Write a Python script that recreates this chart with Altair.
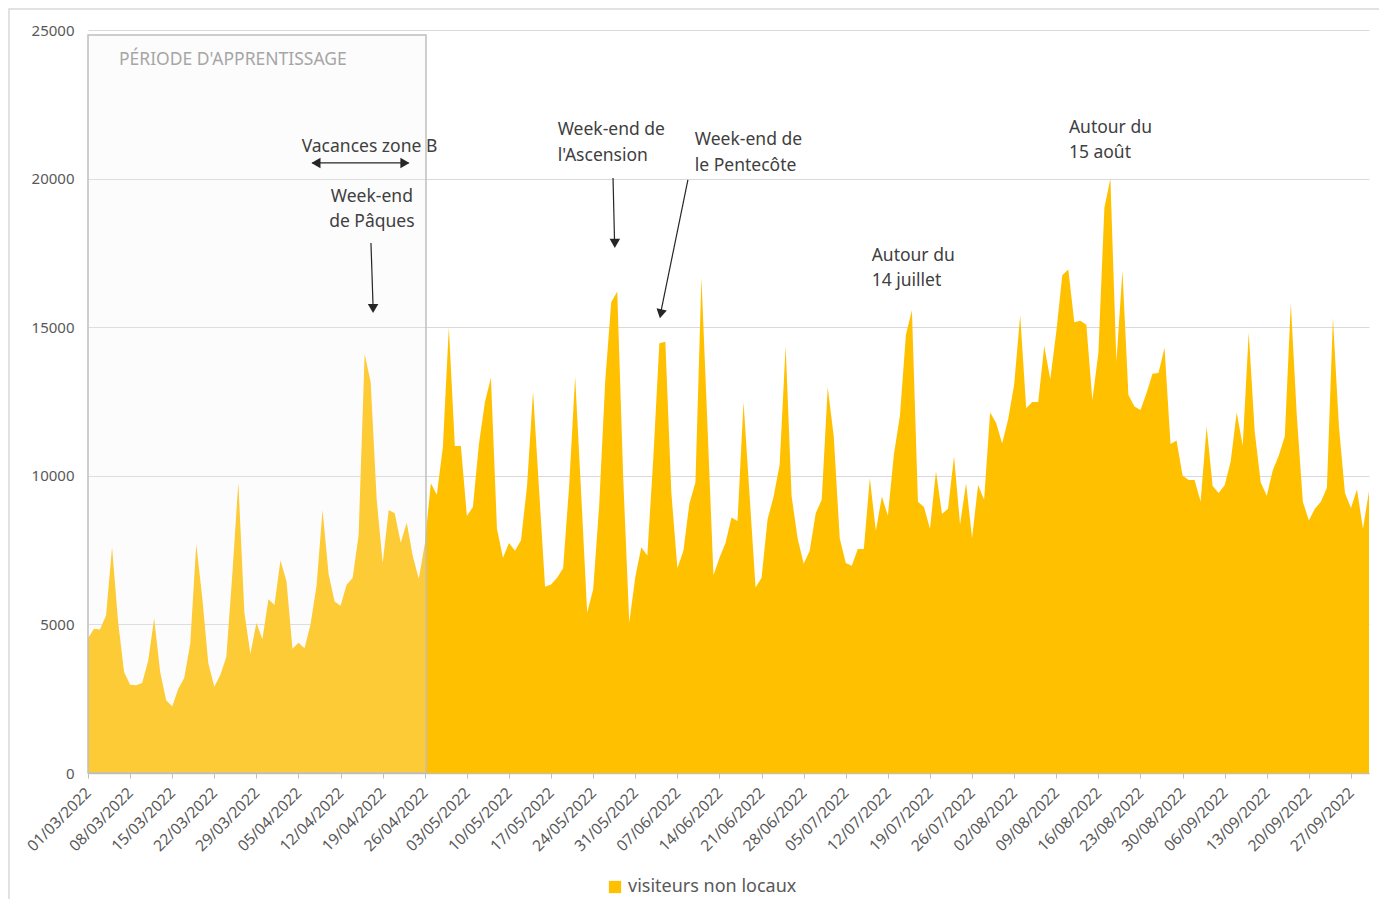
import altair as alt
import pandas as pd

# ---- data -------------------------------------------------------------
dates = pd.date_range("2022-03-01", "2022-09-30", freq="D").strftime("%Y-%m-%d").tolist()
serie_name = "visiteurs non locaux"
visiteurs = [
    4530, 4850, 4830, 5300, 7600, 5100, 3400, 2970, 2950, 3030,
    3770, 5200, 3400, 2450, 2240, 2830, 3200, 4350, 7700, 5900,
    3700, 2900, 3300, 3900, 6700, 9780, 5400, 4000, 5050, 4500,
    5850, 5650, 7150, 6450, 4180, 4380, 4200, 5000, 6300, 8850,
    6700, 5770, 5630, 6330, 6560, 8000, 14100, 13150, 9200, 7070,
    8850, 8740, 7750, 8420, 7300, 6540, 7700, 9750, 9360, 10950,
    15000, 11000, 11000, 8650, 8950, 11070, 12480, 13300, 8220, 7240,
    7740, 7480, 7830, 9660, 12840, 9540, 6270, 6340, 6570, 6890,
    9660, 13330, 9420, 5390, 6180, 9010, 13190, 15840, 16200, 9890,
    5060, 6590, 7600, 7320, 10600, 14460, 14510, 9420, 6890, 7480,
    9070, 9775, 16670, 11700, 6650, 7240, 7740, 8600, 8480, 12480,
    9360, 6240, 6570, 8540, 9300, 10360, 14370, 9300, 7890, 7040,
    7480, 8740, 9190, 12980, 11330, 7890, 7070, 6970, 7540, 7540,
    9920, 8150, 9300, 8660, 10720, 12010, 14750, 15570, 9130, 8950,
    8220, 10150, 8715, 8890, 10660, 8360, 9750, 7910, 9690, 9190,
    12130, 11780, 11090, 11900, 13070, 15400, 12270, 12480, 12480, 14370,
    13250, 14840, 16750, 16940, 15170, 15220, 15080, 12540, 14130, 19020,
    20000, 13840, 16900, 12720, 12330, 12210, 12780, 13430, 13460, 14310,
    11070, 11190, 10010, 9860, 9860, 9130, 11660, 9660, 9420, 9680,
    10480, 12130, 11010, 14820, 11480, 9775, 9330, 10190, 10680, 11330,
    15810, 12010, 9130, 8500, 8890, 9130, 9600, 15310, 11660, 9420,
    8915, 9540, 8220, 9480,
]
tick_dates = pd.date_range("2022-03-01", "2022-09-27", freq="7D")
y_ticks = [0, 5000, 10000, 15000, 20000, 25000]

# annotations (day offset from 01/03/2022, value)
ann_text = ["PÉRIODE D'APPRENTISSAGE", "Vacances zone B", "Week-end", "de Pâques",
            "Week-end de", "l'Ascension", "Week-end de", "le Pentecôte",
            "Autour du", "14 juillet", "Autour du", "15 août"]
ann_day = [5.15, 46.8, 47.2, 47.2, 78.1, 78.1, 100.9, 100.9, 130.3, 130.3, 163.1, 163.1]
ann_val = [23990, 21065, 19380, 18540, 21640, 20760, 21300, 20425, 17400, 16555, 21700, 20860]
ann_align = ["left", "center", "center", "center", "left", "left", "left", "left",
             "left", "left", "left", "left"]
ann_color = ["#a6a6a6"] + ["#404040"] * 11

seg_day = [37.3, 47.05, 87.3, 99.75]
seg_day2 = [53.3, 47.4, 87.55, 95.3]
seg_val = [20527, 17835, 20020, 19955]
seg_val2 = [20527, 15700, 17900, 15560]

head_day = [37.9, 52.7, 47.4, 87.6, 95.24]
head_val = [20527, 20527, 15630, 17820, 15450]
head_shape = ["triangle-left", "triangle-right", "triangle-down", "triangle-down", "triangle-down"]
head_angle = [0, 0, 0, 0, 11.5]

box_day = [0]
box_day2 = [56.2]
box_val = [0]
box_val2 = [24830]

# ---- helpers ------------------------------------------------------------
t0 = pd.Timestamp("2022-03-01")


def to_iso(d):
    return (t0 + pd.Timedelta(days=d)).strftime("%Y-%m-%dT%H:%M:%SZ")


df = pd.DataFrame({"date": dates, "visiteurs": visiteurs, "serie": serie_name})
ann = pd.DataFrame({"t": [to_iso(d) for d in ann_day], "v": ann_val, "txt": ann_text,
                    "align": ann_align, "col": ann_color})
segs = pd.DataFrame({"t": [to_iso(d) for d in seg_day], "t2": [to_iso(d) for d in seg_day2],
                     "v": seg_val, "v2": seg_val2})
heads = pd.DataFrame({"t": [to_iso(d) for d in head_day], "v": head_val,
                      "shape": head_shape, "angle": head_angle})
box = pd.DataFrame({"t": [to_iso(d) for d in box_day], "t2": [to_iso(d) for d in box_day2],
                    "v": box_val, "v2": box_val2})

FONT = "Noto Sans"
x_scale = alt.Scale(type="utc", domain=[alt.DateTime(year=2022, month=3, date=1, utc=True),
                                        alt.DateTime(year=2022, month=9, date=30, utc=True)],
                    nice=False)
y_scale = alt.Scale(domain=[0, 25000], nice=False)

x_axis = alt.Axis(
    values=[alt.DateTime(year=d.year, month=d.month, date=d.day, utc=True) for d in tick_dates],
    labelExpr="utcFormat(datum.value, '%d/%m/%Y')",
    labelAngle=-45, labelAlign="right", labelBaseline="middle",
    labelFontSize=15.5, labelColor="#595959", labelFont=FONT, labelPadding=12,
    tickColor="#bfbfbf", tickSize=5, domainColor="#bfbfbf", domainWidth=1.5, grid=False,
    title=None, labelOverlap=False, labelBound=False,
)
y_axis = alt.Axis(values=y_ticks, format="d", ticks=False, domain=False, grid=True,
                  gridColor="#d9d9d9", gridWidth=1, labelFontSize=15, labelColor="#595959",
                  labelFont=FONT, labelPadding=14, title=None)

area = alt.Chart(df).mark_area(interpolate="linear").encode(
    x=alt.X("date:T", scale=x_scale, axis=x_axis),
    y=alt.Y("visiteurs:Q", scale=y_scale, axis=y_axis),
    color=alt.Color("serie:N", scale=alt.Scale(range=["#FFC000"]),
                    legend=alt.Legend(title=None, orient="none", legendX=518, legendY=848,
                                      symbolType="square", symbolSize=150,
                                      symbolStrokeWidth=0, labelFontSize=18,
                                      labelColor="#595959", labelFont=FONT,
                                      labelOffset=4, labelLimit=500)),
)

overlay = alt.Chart(box).mark_rect(fill="#f0f0f0", fillOpacity=0.22, stroke="#bfbfbf",
                                   strokeWidth=1.5).encode(
    x=alt.X("t:T", scale=x_scale), x2="t2:T",
    y=alt.Y("v:Q", scale=y_scale), y2="v2:Q",
)

rules = alt.Chart(segs).mark_rule(color="#262626", strokeWidth=1.2).encode(
    x=alt.X("t:T", scale=x_scale), x2="t2:T",
    y=alt.Y("v:Q", scale=y_scale), y2="v2:Q",
)

arrowheads = alt.Chart(heads).mark_point(filled=True, size=110, color="#262626", opacity=1).encode(
    x=alt.X("t:T", scale=x_scale),
    y=alt.Y("v:Q", scale=y_scale),
    shape=alt.Shape("shape:N", scale=None, legend=None),
    angle=alt.Angle("angle:Q", scale=None),
)


def text_layer(align):
    return alt.Chart(ann[ann["align"] == align]).mark_text(
        fontSize=17.5, font=FONT, baseline="middle", align=align).encode(
        x=alt.X("t:T", scale=x_scale),
        y=alt.Y("v:Q", scale=y_scale),
        text="txt:N",
        color=alt.Color("col:N", scale=None, legend=None),
    )


texts_left = text_layer("left")
texts_center = text_layer("center")

border = alt.Chart(box).mark_rect(fill="transparent", stroke="#d9d9d9", strokeWidth=1.5).encode(
    x=alt.value(-79), x2=alt.value(1296), y=alt.value(-21), y2=alt.value(900),
)

chart = alt.layer(area, overlay, rules, arrowheads, texts_left, texts_center, border).properties(
    width=1281, height=743,
    autosize=alt.AutoSizeParams(type="none"),
    padding={"left": 80, "top": 22, "right": 10, "bottom": 126},
).configure(font=FONT).configure_view(strokeWidth=0)

chart.save("out.html", embed_options={"renderer": "svg", "actions": False})
